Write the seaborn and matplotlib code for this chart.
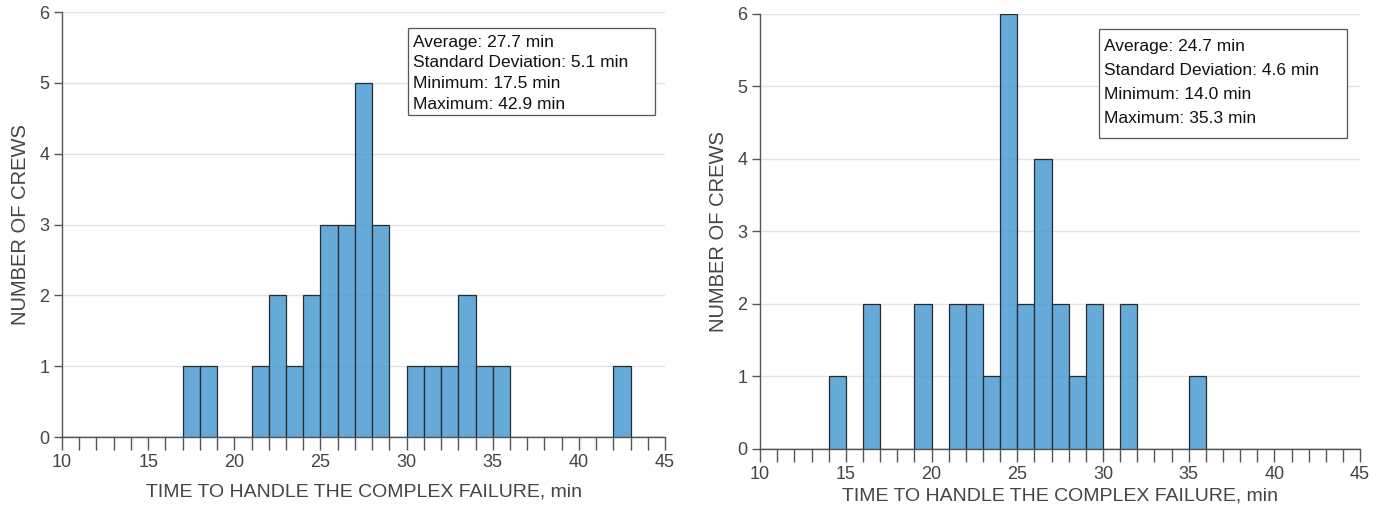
import numpy as np
import pandas as pd
import matplotlib
matplotlib.use("Agg")
import matplotlib.pyplot as plt
from matplotlib.patches import Rectangle
import seaborn as sns

# Bin left edges (min) and counts
left_bins = [17, 18, 21, 22, 23, 24, 25, 26, 27, 28, 30, 31, 32, 33, 34, 35, 42]
left_counts = [1, 1, 1, 2, 1, 2, 3, 3, 5, 3, 1, 1, 1, 2, 1, 1, 1]
left_stats = ["Average: 27.7 min", "Standard Deviation: 5.1 min",
              "Minimum: 17.5 min", "Maximum: 42.9 min"]

right_bins = [14, 16, 19, 21, 22, 23, 24, 25, 26, 27, 28, 29, 31, 35]
right_counts = [1, 2, 2, 2, 2, 1, 6, 2, 4, 2, 1, 2, 2, 1]
right_stats = ["Average: 24.7 min", "Standard Deviation: 4.6 min",
               "Minimum: 14.0 min", "Maximum: 35.3 min"]

x_label = "TIME TO HANDLE THE COMPLEX FAILURE, min"
y_label = "NUMBER OF CREWS"
x_ticks = [10, 15, 20, 25, 30, 35, 40, 45]
y_ticks = [0, 1, 2, 3, 4, 5, 6]

sns.set_theme(style="white")
plt.rcParams['font.family'] = ['Liberation Sans', 'DejaVu Sans']

fig = plt.figure(figsize=(13.87, 5.13), dpi=100)
ax1 = fig.add_axes([0.0447, 0.1481, 0.4348, 0.8285])
ax2 = fig.add_axes([0.548, 0.1248, 0.4326, 0.848])

bar_color = "#4a9bd2"

def draw(ax, bins, counts, stats, box, text_x, line0, dline, xlabpad):
    df = pd.DataFrame({"t": np.array(bins, dtype=float) + 0.5,
                       "n": np.array(counts, dtype=float)})
    sns.histplot(data=df, x="t", weights="n", binwidth=1, binrange=(10, 45),
                 ax=ax, color=bar_color, alpha=0.85, edgecolor="#2b2b2b",
                 linewidth=0.9, zorder=3)
    ax.set_xlim(10, 45)
    ax.set_ylim(0, 6)
    ax.set_xticks(x_ticks)
    ax.set_xticks(np.arange(10, 46, 1), minor=True)
    ax.set_yticks(y_ticks)
    ax.yaxis.grid(True, color="#e3e3e3", linewidth=1.0, zorder=0)
    ax.set_axisbelow(True)
    for s in ["top", "right"]:
        ax.spines[s].set_visible(False)
    for s in ["left", "bottom"]:
        ax.spines[s].set_color("#555555")
        ax.spines[s].set_linewidth(1.0)
    ax.tick_params(axis="x", which="both", direction="out", length=9.5,
                   width=1.0, color="#555555", labelsize=13,
                   labelcolor="#444444", pad=3, bottom=True)
    ax.tick_params(axis="y", which="major", direction="out", length=6,
                   width=1.0, color="#555555", labelsize=13,
                   labelcolor="#444444", pad=3, left=True)
    ax.set_xlabel(x_label, fontsize=14, color="#444444", labelpad=xlabpad)
    ax.set_ylabel(y_label, fontsize=14.5, color="#444444", labelpad=7)
    x0, y0, x1, y1 = box
    ax.add_patch(Rectangle((x0, y0), x1 - x0, y1 - y0, transform=ax.transAxes,
                           facecolor="white", edgecolor="#555555",
                           linewidth=0.9, zorder=5, clip_on=False))
    for i, s in enumerate(stats):
        ax.text(text_x, line0 - i * dline, s, transform=ax.transAxes,
                ha="left", va="center", fontsize=12.5, color="#111111",
                zorder=6)

draw(ax1, left_bins, left_counts, left_stats,
     (0.5738, 0.7576, 0.9834, 0.9624), 0.582, 0.929, 0.0487, 9)
draw(ax2, right_bins, right_counts, right_stats,
     (0.565, 0.715, 0.978, 0.9655), 0.5733, 0.926, 0.0552, 3)

fig.savefig("out.png", dpi=100)
